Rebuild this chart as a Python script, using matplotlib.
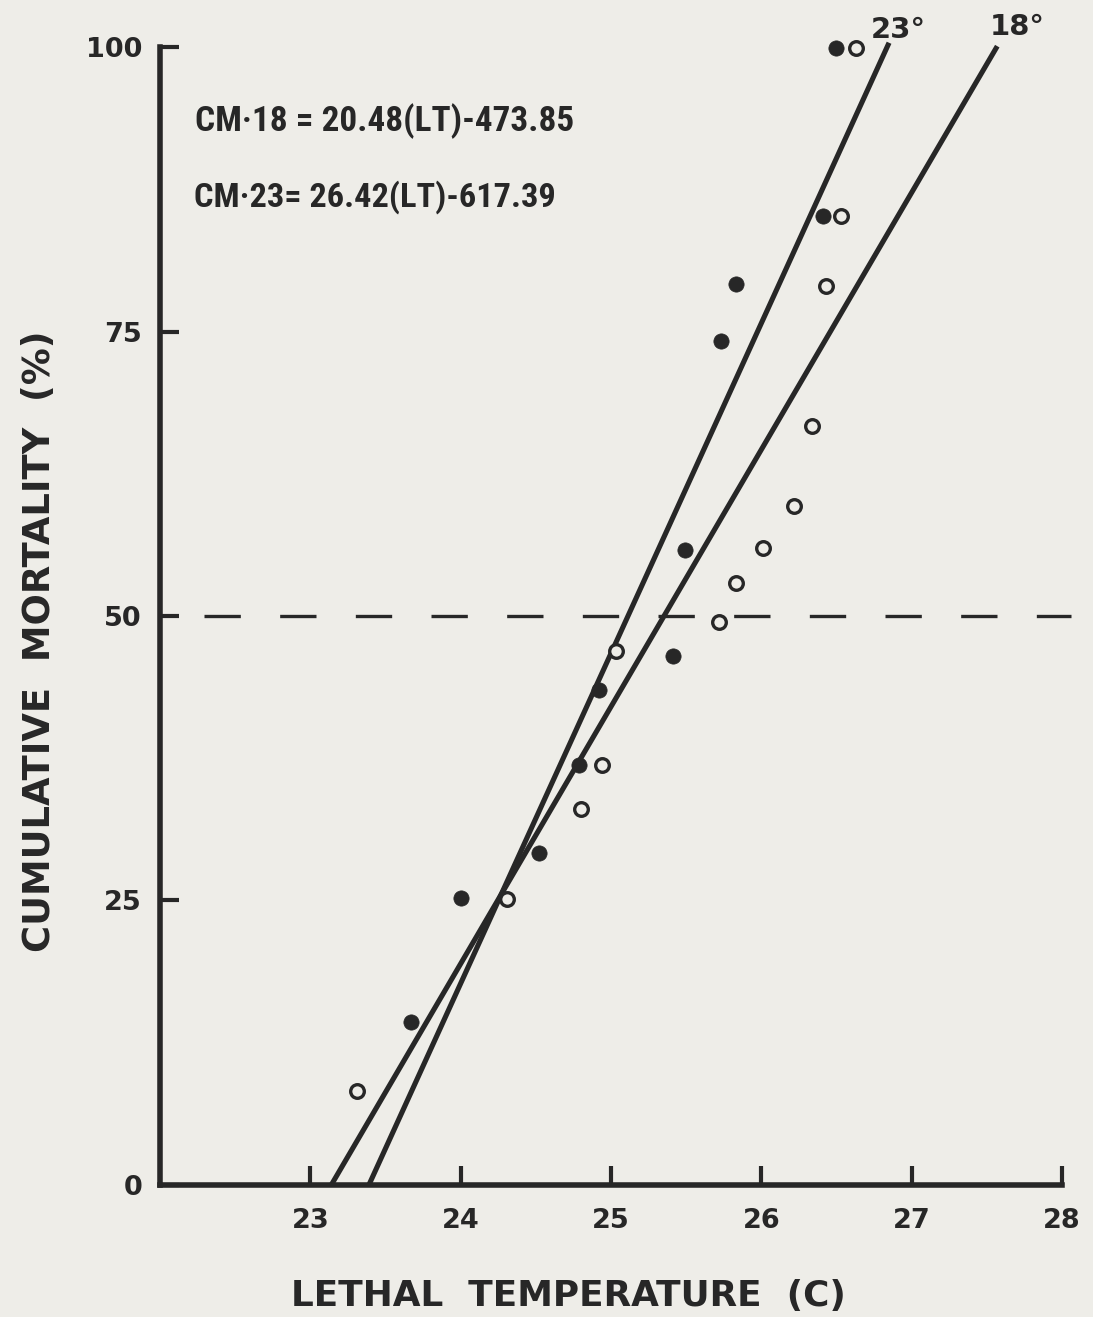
import matplotlib
matplotlib.use("Agg")
import matplotlib.pyplot as plt
from matplotlib import font_manager as fm

# ---------------- data ----------------
# filled circles: acclimated at 23 C
lt_23 = [23.67, 24.00, 24.52, 24.79, 24.92, 25.41, 25.49, 25.73, 25.83, 26.41, 26.50]
cm_23 = [14.3, 25.2, 29.2, 36.9, 43.5, 46.5, 55.8, 74.2, 79.2, 85.2, 99.9]
# open circles: acclimated at 18 C
lt_18 = [23.31, 24.31, 24.80, 24.94, 25.03, 25.72, 25.83, 26.01, 26.22, 26.34, 26.43, 26.53, 26.63]
cm_18 = [8.2, 25.1, 33.0, 36.9, 46.9, 49.5, 52.9, 56.0, 59.7, 66.7, 79.0, 85.2, 99.9]
# fitted lines as drawn (end points)
fit_23_lt = [23.39, 26.85]
fit_23_cm = [0.0, 100.4]
fit_18_lt = [23.14, 27.57]
fit_18_cm = [0.0, 100.1]
# 50 % reference line
ref_lt = [22.29, 28.06]
ref_cm = [50, 50]

x_ticks = [23, 24, 25, 26, 27, 28]
y_ticks = [0, 25, 50, 75, 100]
eq_18 = "CM·18 = 20.48(LT)-473.85"
eq_23 = "CM·23= 26.42(LT)-617.39"
label_23 = "23°"
label_18 = "18°"
x_label = "LETHAL  TEMPERATURE  (C)"
y_label = "CUMULATIVE  MORTALITY  (%)"

# ---------------- style ----------------
INK = "#272727"
PAPER = "#eeede8"
W, H = 1093, 1317


def pick(families):
    for f in families:
        try:
            fm.findfont(fm.FontProperties(family=f, weight="bold"), fallback_to_default=False)
            return f
        except Exception:
            pass
    return "DejaVu Sans"


MAIN = "DejaVu Sans"
NARROW = pick(["Liberation Sans Narrow", "Roboto Condensed", "Open Sans Condensed", "Roboto", "Liberation Sans"])

fig = plt.figure(figsize=(W / 100, H / 100), dpi=100, facecolor=PAPER)
ax = fig.add_axes([160.1 / W, 1 - 1184.7 / H, 901.8 / W, 1137.4 / H])
ax.set_facecolor("none")
ax.set_xlim(22, 28)
ax.set_ylim(0, 100)

for s in ("top", "right"):
    ax.spines[s].set_visible(False)
for s in ("left", "bottom"):
    ax.spines[s].set_linewidth(4.0)
    ax.spines[s].set_color(INK)
    ax.spines[s].set_capstyle("projecting")

ax.set_xticks(x_ticks)
ax.set_yticks(y_ticks)
ax.set_xticklabels([str(v) for v in x_ticks])
ax.set_yticklabels([str(v) for v in y_ticks])
ax.tick_params(axis="x", direction="in", length=14, width=3.0, color=INK,
               pad=17, labelsize=19.5, labelcolor=INK)
ax.tick_params(axis="y", direction="in", length=14, width=3.0, color=INK,
               pad=13, labelsize=19.5, labelcolor=INK)
for lab in ax.get_xticklabels() + ax.get_yticklabels():
    lab.set_fontweight("bold")
    lab.set_family(MAIN)

# 50 % dashed line
ax.plot(ref_lt, ref_cm, color=INK, lw=2.4, linestyle=(0, (10.9, 11.8)),
        solid_capstyle="butt", dash_capstyle="butt", clip_on=False, zorder=1)

# regression lines
ax.plot(fit_23_lt, fit_23_cm, color=INK, lw=3.7, solid_capstyle="butt", clip_on=False, zorder=2)
ax.plot(fit_18_lt, fit_18_cm, color=INK, lw=3.7, solid_capstyle="butt", clip_on=False, zorder=2)

# points
ax.plot(lt_23, cm_23, linestyle="none", marker="o", ms=11, mfc=INK, mec=INK, mew=0.5,
        clip_on=False, zorder=4)
ax.plot(lt_18, cm_18, linestyle="none", marker="o", ms=9.8, mfc=PAPER, mec=INK, mew=2.4,
        clip_on=False, zorder=4)

# line labels
ax.text(26.73, 101.5, label_23, fontsize=21, fontweight="bold", family=MAIN, color=INK,
        ha="left", va="center", clip_on=False)
ax.text(27.52, 101.8, label_18, fontsize=21, fontweight="bold", family=MAIN, color=INK,
        ha="left", va="center", clip_on=False)

# equations
t1 = ax.text(22.23, 93.55, eq_18, fontsize=24, fontweight="bold", family=[NARROW, "DejaVu Sans"],
             color=INK, ha="left", va="center")
t2 = ax.text(22.225, 86.86, eq_23, fontsize=24, fontweight="bold", family=[NARROW, "DejaVu Sans"],
             color=INK, ha="left", va="center")

# axis titles
xl = fig.text(568.3 / W, 1 - 1295.7 / H, x_label, fontsize=26, fontweight="bold", family=MAIN,
              color=INK, ha="center", va="center")
yl = fig.text(39.6 / W, 1 - 640.8 / H, y_label, fontsize=26, fontweight="bold", family=MAIN,
              color=INK, ha="center", va="center", rotation=90)

# fit the equation texts to the measured widths
fig.canvas.draw()
r = fig.canvas.get_renderer()
for t, target in ((t1, 380.0), (t2, 363.0)):
    w = t.get_window_extent(renderer=r).width
    t.set_fontsize(t.get_fontsize() * target / w)
fig.canvas.draw()
for t, target in ((xl, 557.0),):
    w = t.get_window_extent(renderer=r).width
    t.set_fontsize(min(28, t.get_fontsize() * target / w))
w = yl.get_window_extent(renderer=r).height
yl.set_fontsize(min(28, yl.get_fontsize() * 624.0 / w))

fig.savefig("out.png", dpi=100, facecolor=PAPER)
